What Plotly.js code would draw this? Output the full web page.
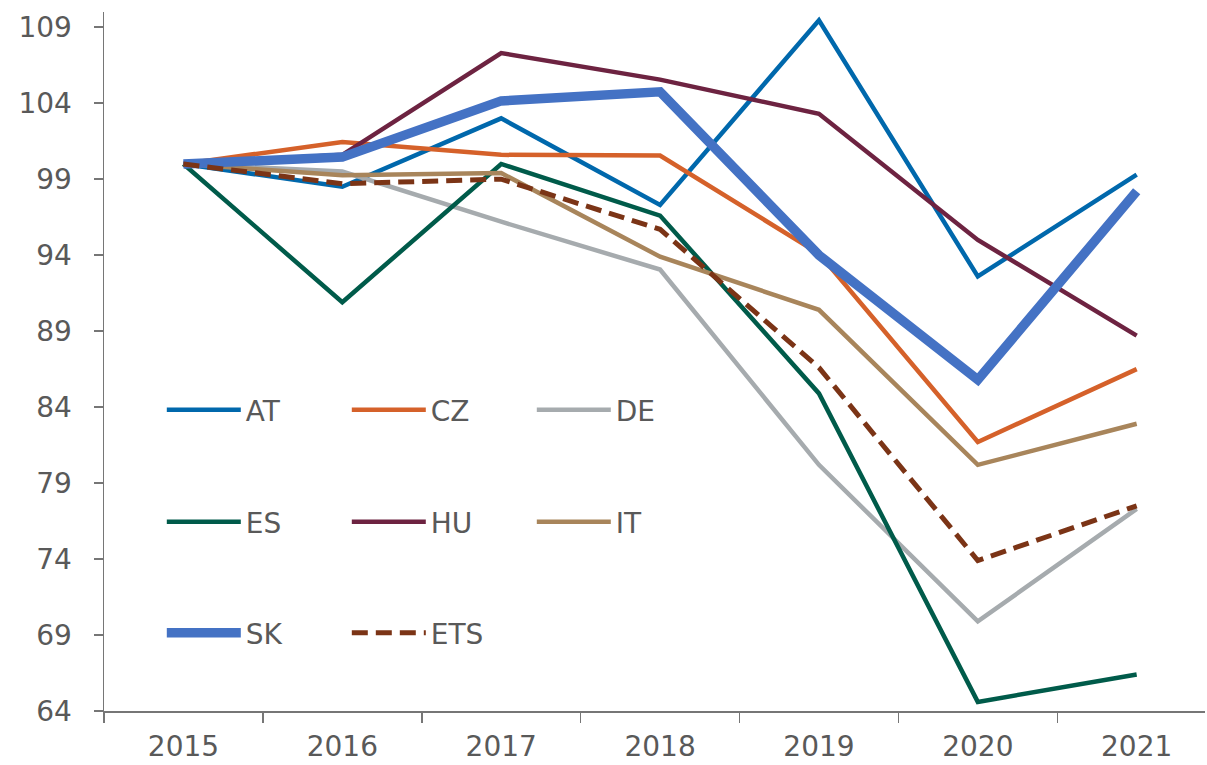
<!DOCTYPE html>
<html>
<head>
<meta charset="utf-8">
<script src="https://cdn.plot.ly/plotly-3.0.1.min.js"></script>
<style>html,body{margin:0;padding:0;background:#fff;}#chart{width:1207px;height:765px;}</style>
</head>
<body>
<div id="chart"></div>
<script>
const years = ['2015','2016','2017','2018','2019','2020','2021'];
const AT  = [100, 98.5, 103.0, 97.3, 109.45, 92.6, 99.3];
const CZ  = [100, 101.45, 100.6, 100.55, 94.1, 81.7, 86.5];
const DE  = [100, 99.5, 96.2, 93.05, 80.2, 69.9, 77.3];
const ES  = [100, 90.9, 100.0, 96.6, 84.9, 64.6, 66.4];
const HU  = [100, 100.6, 107.3, 105.55, 103.3, 95.0, 88.7];
const IT  = [100, 99.25, 99.4, 93.9, 90.4, 80.2, 82.9];
const SK  = [100, 100.45, 104.15, 104.75, 94.0, 85.8, 98.2];
const ETS = [100, 98.7, 99.0, 95.7, 86.6, 73.9, 77.5];
const yTicks = [64, 69, 74, 79, 84, 89, 94, 99, 104, 109];

const series = [
  {name:'AT', y:AT, color:'#0068AC', width:4.5, dash:'solid', legend:'legend'},
  {name:'CZ', y:CZ, color:'#D5612A', width:4.5, dash:'solid', legend:'legend'},
  {name:'DE', y:DE, color:'#A6ABAE', width:4.5, dash:'solid', legend:'legend'},
  {name:'ES', y:ES, color:'#005B4A', width:4.5, dash:'solid', legend:'legend2'},
  {name:'HU', y:HU, color:'#6D2341', width:4.5, dash:'solid', legend:'legend2'},
  {name:'IT', y:IT, color:'#A8855B', width:4.5, dash:'solid', legend:'legend2'},
  {name:'SK', y:SK, color:'#4472C4', width:9.5, dash:'solid', legend:'legend3'},
  {name:'ETS', y:ETS, color:'#7B3416', width:5, dash:'16px,8px', legend:'legend3'}
];

const traces = series.map(s => ({
  type:'scatter', mode:'lines', x:years, y:s.y, name:s.name, legend:s.legend,
  line:{color:s.color, width:s.width, dash:s.dash, shape:'linear'},
  hoverinfo:'x+y+name'
}));

const font = {family:'"DejaVu Sans", Verdana, sans-serif', size:28, color:'#595959'};
const legBase = {
  orientation:'h', xanchor:'left', yanchor:'middle', x:0.0525,
  entrywidth:96, entrywidthmode:'pixels', itemwidth:74,
  bgcolor:'rgba(0,0,0,0)', borderwidth:0, font:font, traceorder:'normal'
};

const layout = {
  width:1207, height:765,
  margin:{l:104, r:2, t:12, b:54, pad:0},
  paper_bgcolor:'#fff', plot_bgcolor:'#fff',
  font:font,
  showlegend:true,
  legend: Object.assign({}, legBase, {y:0.4306}),
  legend2: Object.assign({}, legBase, {y:0.2704}),
  legend3: Object.assign({}, legBase, {y:0.1116}),
  xaxis:{
    type:'category', range:[-0.5, 6.43], showgrid:false, zeroline:false,
    showline:true, linecolor:'#767676', linewidth:1.5,
    ticks:'outside', tickson:'boundaries', ticklen:10, tickcolor:'#767676', tickwidth:1.5,
    tickfont:font, ticklabelstandoff:10
  },
  yaxis:{
    range:[64, 110], tickvals:yTicks, ticktext:yTicks.map(String),
    showgrid:false, zeroline:false,
    showline:true, linecolor:'#767676', linewidth:1.5,
    ticks:'outside', ticklen:9, tickcolor:'#767676', tickwidth:1.5,
    tickfont:font, ticklabelstandoff:16
  }
};

Plotly.newPlot('chart', traces, layout, {displayModeBar:false, staticPlot:true});
</script>
</body>
</html>
